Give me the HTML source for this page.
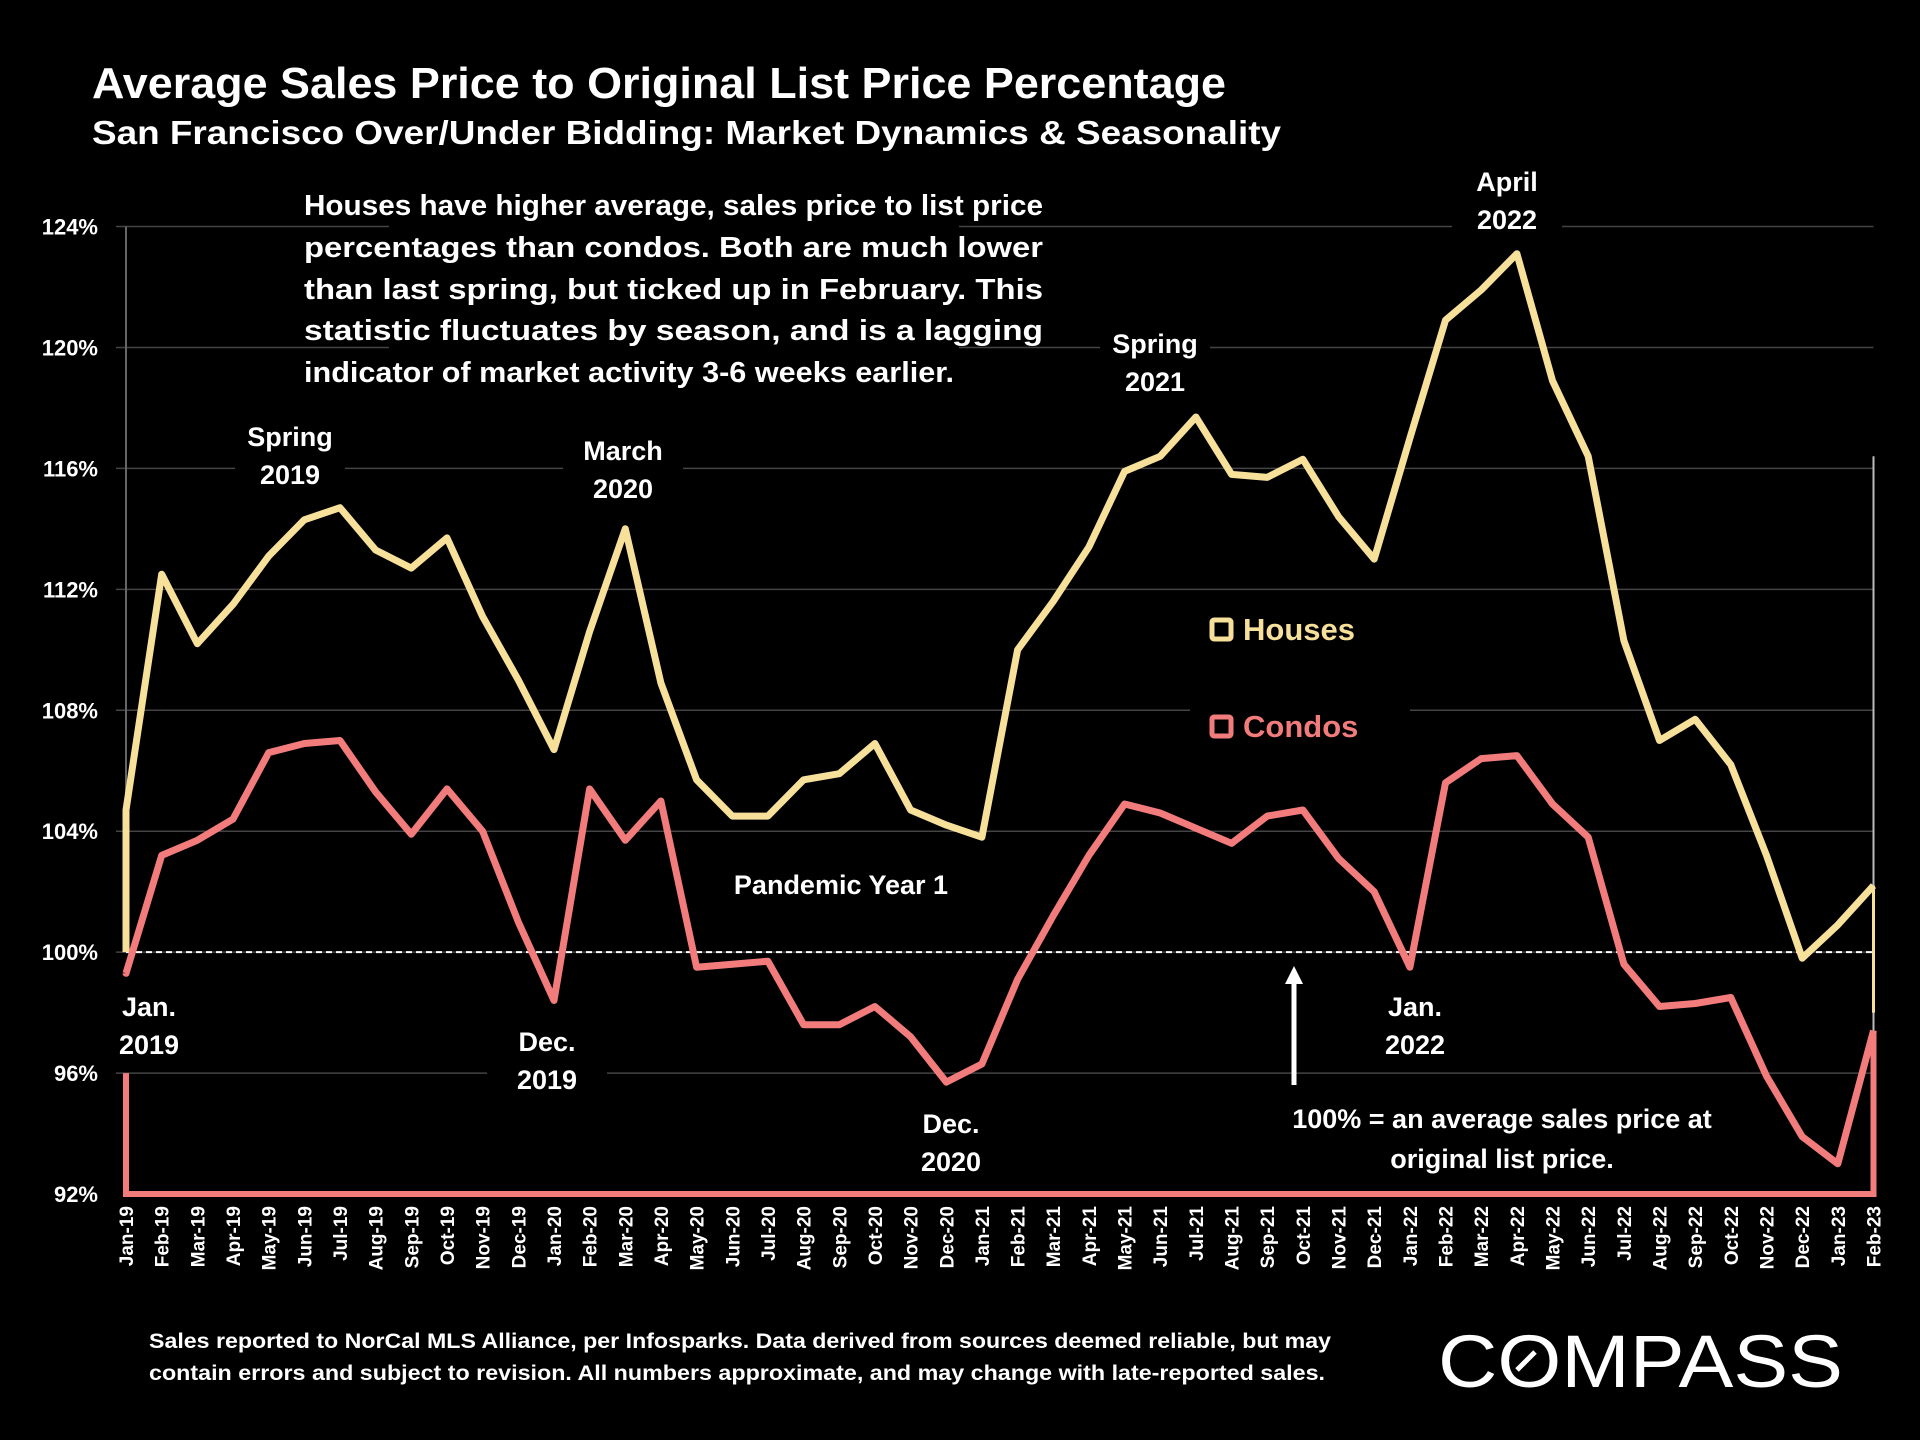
<!DOCTYPE html>
<html><head><meta charset="utf-8"><style>
html,body{margin:0;padding:0;background:#000;}
svg{display:block;font-family:"Liberation Sans",sans-serif;font-weight:bold;}
</style></head><body>
<svg id="chart" width="1920" height="1440" viewBox="0 0 1920 1440" xmlns="http://www.w3.org/2000/svg">
<rect width="1920" height="1440" fill="#000"/>
<g id="grid"></g>
<g id="frame"></g>
<g id="series"></g>
<g id="masks"></g>
<text x="92" y="98" fill="#fff" font-size="44" textLength="1134" lengthAdjust="spacingAndGlyphs">Average Sales Price to Original List Price Percentage</text>
<text x="92" y="144" fill="#fff" font-size="33" textLength="1189" lengthAdjust="spacingAndGlyphs">San Francisco Over/Under Bidding: Market Dynamics &amp; Seasonality</text>
<g id="yticks"></g>
<g id="xticks"></g>
<g fill="#fff" font-size="29">
<text x="304" y="215" textLength="739" lengthAdjust="spacingAndGlyphs">Houses have higher average, sales price to list price</text>
<text x="304" y="257" textLength="739" lengthAdjust="spacingAndGlyphs">percentages than condos. Both are much lower</text>
<text x="304" y="299" textLength="739" lengthAdjust="spacingAndGlyphs">than last spring, but ticked up in February. This</text>
<text x="304" y="340" textLength="739" lengthAdjust="spacingAndGlyphs">statistic fluctuates by season, and is a lagging</text>
<text x="304" y="382" textLength="650" lengthAdjust="spacingAndGlyphs">indicator of market activity 3-6 weeks earlier.</text>
</g>
<g fill="#fff" font-size="27" text-anchor="middle">
<text x="290" y="446">Spring</text><text x="290" y="484">2019</text>
<text x="623" y="460">March</text><text x="623" y="498">2020</text>
<text x="149" y="1016">Jan.</text><text x="149" y="1054">2019</text>
<text x="547" y="1051">Dec.</text><text x="547" y="1089">2019</text>
<text x="841" y="894">Pandemic Year 1</text>
<text x="951" y="1133">Dec.</text><text x="951" y="1171">2020</text>
<text x="1155" y="353">Spring</text><text x="1155" y="391">2021</text>
<text x="1507" y="191">April</text><text x="1507" y="229">2022</text>
<text x="1415" y="1016">Jan.</text><text x="1415" y="1054">2022</text>
<text x="1502" y="1128">100% = an average sales price at</text>
<text x="1502" y="1168">original list price.</text>
</g>
<g>
<line x1="1294" y1="1085" x2="1294" y2="982" stroke="#fff" stroke-width="5"/>
<polygon points="1285,984 1294,966 1303,984" fill="#fff"/>
</g>
<g font-size="31">
<g>
<rect x="1212" y="620" width="19" height="19" fill="none" stroke="#f6e09a" stroke-width="5" rx="2"/>
<text x="1243" y="640" fill="#f6e09a">Houses</text></g>
<g>
<rect x="1212" y="717" width="19" height="19" fill="none" stroke="#f27b7b" stroke-width="5" rx="2"/>
<text x="1243" y="737" fill="#f27b7b">Condos</text></g>
</g>
<g fill="#fff" font-size="21">
<text x="149" y="1348" textLength="1182" lengthAdjust="spacingAndGlyphs">Sales reported to NorCal MLS Alliance, per Infosparks. Data derived from sources deemed reliable, but may</text>
<text x="149" y="1380" textLength="1176" lengthAdjust="spacingAndGlyphs">contain errors and subject to revision. All numbers approximate, and may change with late-reported sales.</text>
</g>
<text x="1438" y="1387" fill="#fff" font-size="74" font-weight="normal" textLength="405" lengthAdjust="spacingAndGlyphs">COMPASS</text>
<line x1="1517" y1="1370" x2="1535" y2="1352" stroke="#fff" stroke-width="5"/>
</svg>
<script>
const categories = ["Jan-19","Feb-19","Mar-19","Apr-19","May-19","Jun-19","Jul-19","Aug-19","Sep-19","Oct-19","Nov-19","Dec-19","Jan-20","Feb-20","Mar-20","Apr-20","May-20","Jun-20","Jul-20","Aug-20","Sep-20","Oct-20","Nov-20","Dec-20","Jan-21","Feb-21","Mar-21","Apr-21","May-21","Jun-21","Jul-21","Aug-21","Sep-21","Oct-21","Nov-21","Dec-21","Jan-22","Feb-22","Mar-22","Apr-22","May-22","Jun-22","Jul-22","Aug-22","Sep-22","Oct-22","Nov-22","Dec-22","Jan-23","Feb-23"];
const houses = [104.7,112.5,110.2,111.5,113.1,114.3,114.7,113.3,112.7,113.7,111.1,109.0,106.7,110.6,114.0,108.9,105.7,104.5,104.5,105.7,105.9,106.9,104.7,104.2,103.8,110.0,111.6,113.4,115.9,116.4,117.7,115.8,115.7,116.3,114.4,113.0,117.0,120.9,121.9,123.1,118.9,116.4,110.3,107.0,107.7,106.2,103.2,99.8,100.9,102.2];
const condos = [99.3,103.2,103.7,104.4,106.6,106.9,107.0,105.3,103.9,105.4,104.0,101.0,98.4,105.4,103.7,105.0,99.5,99.6,99.7,97.6,97.6,98.2,97.2,95.7,96.3,99.1,101.2,103.2,104.9,104.6,104.1,103.6,104.5,104.7,103.1,102.0,99.5,105.6,106.4,106.5,104.9,103.8,99.6,98.2,98.3,98.5,95.9,93.9,93.0,97.4];
const yTicks = [92,96,100,104,108,112,116,120,124];
const yTickLabels = ["92%","96%","100%","104%","108%","112%","116%","120%","124%"];

const NS="http://www.w3.org/2000/svg";
const X0=126, X1=1873.5, Y0=226.5, Y1=1194, VMIN=92, VMAX=124;
function xs(i){return X0+i*(X1-X0)/(categories.length-1);}
function ys(v){return Y0+(VMAX-v)*(Y1-Y0)/(VMAX-VMIN);}
function mk(tag,attrs,parent){const e=document.createElementNS(NS,tag);for(const k in attrs)e.setAttribute(k,attrs[k]);parent.appendChild(e);return e;}

const grid=document.getElementById('grid');
yTicks.forEach((v,i)=>{
  if(v===VMIN) return;
  const l=mk('line',{x1:116,x2:X1,y1:ys(v),y2:ys(v),stroke:'#444','stroke-width':1.5},grid);
  
  
});
const ref=mk('line',{x1:X0,x2:X1,y1:ys(100),y2:ys(100),stroke:'#fff','stroke-width':2,'stroke-dasharray':'6,4'},grid);



const frame=document.getElementById('frame');
const lax=mk('line',{x1:X0,x2:X0,y1:Y0,y2:ys(100),stroke:'#666','stroke-width':2},frame);


const rax=mk('line',{x1:X1,x2:X1,y1:ys(116.4),y2:Y1,stroke:'#bbb','stroke-width':2},frame);



const series=document.getElementById('series');
function drawLine(vals,color,name,startV){
  let d='M'+xs(0)+','+ys(startV);
  vals.forEach((v,i)=>{d+=' L'+xs(i).toFixed(1)+','+ys(v).toFixed(1);});
  const p=mk('path',{d:d,fill:'none',stroke:color,'stroke-width':7,'stroke-linejoin':'round'},series);
  
  
}
drawLine(houses,'#f6e09a','houses-line',100);
const hEnd=mk('line',{x1:X1,x2:X1,y1:ys(houses[houses.length-1]),y2:ys(98),stroke:'#f6e09a','stroke-width':3},series);


drawLine(condos,'#f27b7b','condos-line',condos[0]);
const base=mk('path',{d:'M'+X0+','+ys(96)+' L'+X0+','+Y1+' L'+X1+','+Y1+' L'+X1+','+ys(condos[condos.length-1]),fill:'none',stroke:'#f27b7b','stroke-width':6},series);



const masks=document.getElementById('masks');
[[290,408,110,86],[674,185,570,210],[623,420,120,88],[1155,316,110,86],[1507,156,110,84],[149,982,110,84],[547,1016,120,86],[951,1098,120,86],[1415,982,120,86],[841,864,250,40],[1502,1094,490,86],[1300,600,220,160]].forEach(b=>{
  const r=mk('rect',{x:b[0]-b[2]/2,y:b[1],width:b[2],height:b[3],fill:'#000'},masks);
  
  
});

const yt=document.getElementById('yticks');
yTicks.forEach((v,i)=>{
  const t=mk('text',{x:98,y:ys(v)+8,fill:'#fff','font-size':22,'text-anchor':'end'},yt);
  t.textContent=yTickLabels[i];
  
  
});
const xt=document.getElementById('xticks');
categories.forEach((c,i)=>{
  const t=mk('text',{x:0,y:0,fill:'#fff','font-size':19,'text-anchor':'end',transform:'translate('+(xs(i)+7)+',1206) rotate(-90)'},xt);
  t.textContent=c;
  
  
});
</script>
</body></html>
